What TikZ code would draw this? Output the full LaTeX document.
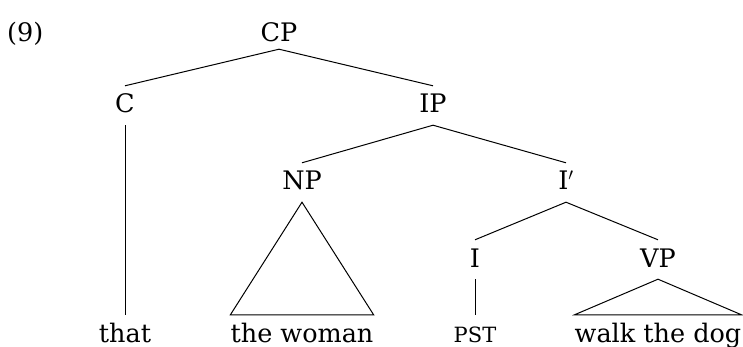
\documentclass[tikz,border=0pt]{standalone}
\usepackage{fontspec}
\setmainfont{DejaVu Serif}
\begin{document}
\begin{tikzpicture}[x=1pt,y=-1pt,
  every node/.style={font=\fontsize{25.5}{30}\selectfont, inner sep=0pt},
  cat/.style={anchor=base, text height=27pt, text depth=12pt},
  leaf/.style={anchor=base, text height=27pt, text depth=0pt},
  edge/.style={line width=1pt}]
\useasboundingbox (0,0) rectangle (743,347);
\node[anchor=base west] (num) at (7,42) {(9)};
\node[anchor=base, text height=17pt, text depth=7pt] (cp) at (279,42) {CP};
\node[cat] (c) at (125,113) {C};
\node[cat] (ip) at (433,113) {IP};
\node[cat] (np) at (302,190) {NP};
\node[cat] (ibar) at (566,190) {I$'$};
\node[cat] (i) at (475,267) {I};
\node[cat] (vp) at (658,267) {VP};
\node[leaf] (that) at (125,342) {that};
\node[leaf] (woman) at (302,342) {the woman};
\node[leaf] (pst) at (475,342) {{\fontsize{21}{25}\selectfont PST}};
\node[leaf] (dog) at (658,342) {walk the dog};
\draw[edge] (c.north) -- (cp.south) -- (ip.north);
\draw[edge] (np.north) -- (ip.south) -- (ibar.north);
\draw[edge] (i.north) -- (ibar.south) -- (vp.north);
\draw[edge] (c.south) -- (c.south |- that.north);
\draw[edge] (i.south) -- (i.south |- pst.north);
\draw[edge] (np.south) -- (woman.north west) -- (woman.north east) -- cycle;
\draw[edge] (vp.south) -- (dog.north west) -- (dog.north east) -- cycle;
\end{tikzpicture}
\end{document}
